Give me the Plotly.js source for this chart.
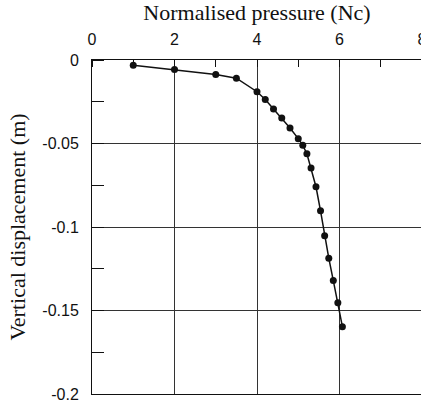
<!DOCTYPE html>
<html>
<head>
<meta charset="utf-8">
<script src="https://cdn.plot.ly/plotly-3.0.1.min.js"></script>
<style>
html,body{margin:0;padding:0;background:#fff;overflow:hidden;}
#chart{width:424px;height:404px;}
</style>
</head>
<body>
<div id="chart"></div>
<script>
// Data
var pressure = [1.0, 2.0, 3.0, 3.5, 4.0, 4.2, 4.4, 4.6, 4.8, 5.0, 5.11, 5.21, 5.31, 5.43, 5.54, 5.64, 5.74, 5.85, 5.96, 6.07];
var displacement = [-0.0031, -0.0057, -0.0087, -0.0109, -0.019, -0.0237, -0.0293, -0.0347, -0.0407, -0.0471, -0.0511, -0.0561, -0.0647, -0.0759, -0.0903, -0.1053, -0.1187, -0.1321, -0.1453, -0.1597];
var xTickVals = [0, 2, 4, 6, 8];
var xTickText = ["0", "2", "4", "6", "8"];
var yTickVals = [0, -0.05, -0.1, -0.15, -0.2];
var yTickText = ["0", "-0.05", "-0.1", "-0.15", "-0.2"];

var trace = {
  x: pressure,
  y: displacement,
  mode: 'lines+markers',
  type: 'scatter',
  line: {color: '#111', width: 1.5},
  marker: {color: '#111', size: 7},
  showlegend: false,
  cliponaxis: false
};

var serif = 'Liberation Serif, Times New Roman, serif';

var layout = {
  width: 424,
  height: 404,
  margin: {l: 92, r: 2, t: 60, b: 10},
  paper_bgcolor: '#fff',
  plot_bgcolor: '#fff',
  font: {family: 'Liberation Sans, Arial, sans-serif', size: 16, color: '#111'},
  xaxis: {
    side: 'top',
    range: [0, 8],
    tickvals: xTickVals,
    ticktext: xTickText,
    ticks: '',
    ticklabelstandoff: 8,
    ticklabeloverflow: 'allow',
    showgrid: true,
    gridcolor: '#333',
    gridwidth: 1,
    zeroline: false,
    showline: true,
    linecolor: '#111',
    linewidth: 1,
    mirror: true,
    minor: {dtick: 1, tick0: 0, ticks: 'inside', ticklen: 7, tickcolor: '#111', showgrid: false},
    title: {text: 'Normalised pressure (Nc)', font: {family: serif, size: 22, color: '#111'}, standoff: 4}
  },
  yaxis: {
    range: [-0.2, 0],
    tickvals: yTickVals,
    ticktext: yTickText,
    ticks: '',
    ticklabelstandoff: 9,
    ticklabeloverflow: 'allow',
    showgrid: true,
    gridcolor: '#333',
    gridwidth: 1,
    zeroline: false,
    showline: true,
    linecolor: '#111',
    linewidth: 1,
    mirror: true,
    minor: {dtick: 0.025, tick0: 0, ticks: 'inside', ticklen: 12, tickcolor: '#111', showgrid: false},
    title: {text: 'Vertical displacement (m)', font: {family: serif, size: 22, color: '#111'}, standoff: 10}
  }
};

Plotly.newPlot('chart', [trace], layout, {displayModeBar: false, staticPlot: true});
</script>
</body>
</html>
